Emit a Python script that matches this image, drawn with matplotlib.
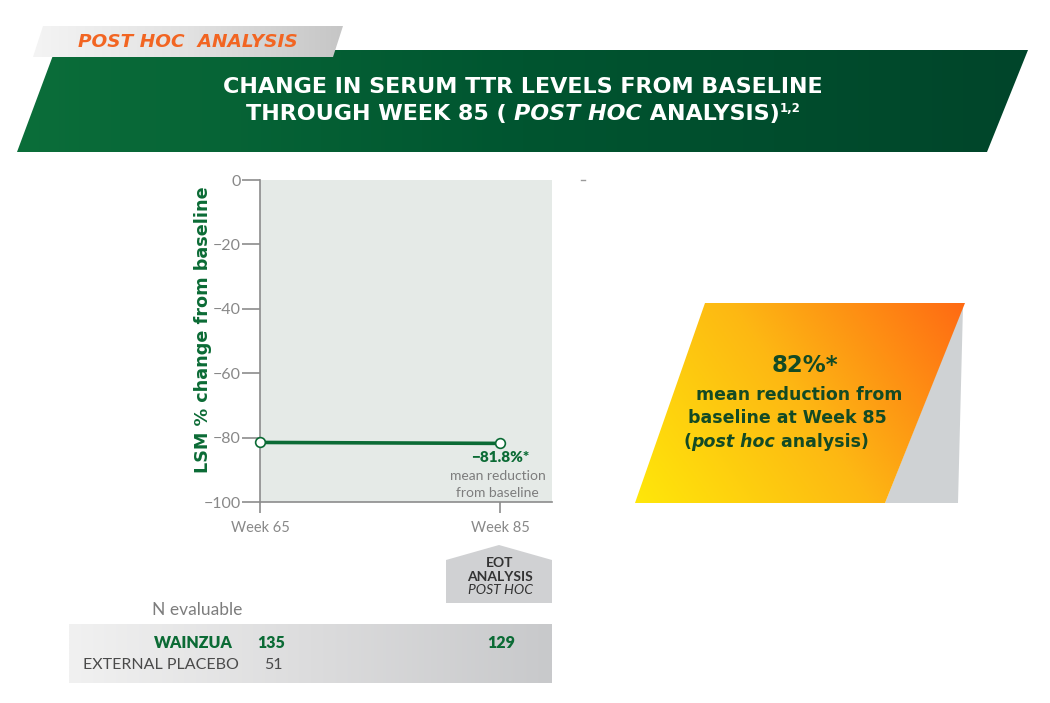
import numpy as np
import matplotlib
matplotlib.use("Agg")
import matplotlib.pyplot as plt
from matplotlib.patches import Polygon
from matplotlib.colors import LinearSegmentedColormap
import matplotlib.transforms as mtransforms

# data
weeks = ['Week 65', 'Week 85']
lsm_change = [-81.5, -81.8]
yticks = [0, -20, -40, -60, -80, -100]
n_wainzua = [135, 129]
n_placebo = [51]
rows = ['WAINZUA', 'EXTERNAL PLACEBO']

GREEN = '#0b6b35'
DKGREEN = '#134a24'
GREY = '#7d7d7d'
BOLD = 'DejaVu Sans'

plt.rcParams['font.family'] = ['Lato', 'DejaVu Sans']

fig = plt.figure(figsize=(10.5, 7.03), dpi=100)
ov = fig.add_axes([0, 0, 1, 1], zorder=0)
ov.set_xlim(0, 1050)
ov.set_ylim(703, 0)
ov.axis('off')
renderer = fig.canvas.get_renderer()


def grad_poly(verts, colors, mix=0.0, zorder=1):
    poly = Polygon(verts, closed=True, facecolor='none', edgecolor='none')
    ov.add_patch(poly)
    xs = [v[0] for v in verts]
    ys = [v[1] for v in verts]
    gx, gy = np.meshgrid(np.linspace(0, 1, 256), np.linspace(0, 1, 256))
    g = (1 - mix) * gx + mix * (1 - gy)
    cmap = LinearSegmentedColormap.from_list('g', colors)
    im = ov.imshow(g, cmap=cmap, extent=(min(xs), max(xs), max(ys), min(ys)),
                   aspect='auto', zorder=zorder, interpolation='bilinear')
    im.set_clip_path(poly)


def text_runs(xc, y, pieces, **kw):
    # pieces: (text, extra props, y shift)
    objs = []
    for s, props, dy in pieces:
        p = dict(kw)
        p.update(props)
        objs.append((ov.text(0, y + dy, s, ha='left', va='center', zorder=3, **p)))
    widths = [t.get_window_extent(renderer).width for t in objs]
    x = xc - sum(widths) / 2
    for t, w in zip(objs, widths):
        t.set_x(x)
        x += w


# banner
grad_poly([(55, 50), (1028, 50), (987, 152), (17, 152)], ['#0b6e3a', '#005530', '#00452a'])
grad_poly([(43, 26), (343, 26), (333, 57), (33, 57)], ['#f4f4f4', '#e2e2e2', '#c6c6c6'], zorder=2)
ov.text(188, 42, 'POST HOC  ANALYSIS', color='#f26522', fontsize=13.3, fontweight='bold',
        fontstyle='italic', family=BOLD, ha='center', va='center', zorder=3)
ov.text(523, 87, 'CHANGE IN SERUM TTR LEVELS FROM BASELINE', color='white', fontsize=16,
        fontweight='bold', family=BOLD, ha='center', va='center', zorder=3)
text_runs(523, 114, [('THROUGH WEEK 85 ( ', {}, 0),
                     ('POST HOC', {'fontstyle': 'italic'}, 0),
                     (' ANALYSIS)', {}, 0),
                     ('1,2', {'fontsize': 8.5}, -6)],
          color='white', fontsize=16, fontweight='bold', family=BOLD)

# callout
ov.add_patch(Polygon([(963, 306), (958, 503), (885, 503)], closed=True,
                     facecolor='#cfd2d4', edgecolor='none', zorder=1))
grad_poly([(705, 303), (965, 303), (885, 503), (635, 503)],
          ['#ffe70a', '#fdb813', '#ff6a13'], mix=0.3, zorder=2)
ov.text(805, 366, '82%*', color=DKGREEN, fontsize=16.5, fontweight='bold', family=BOLD,
        ha='center', va='center', zorder=3)
ov.text(799, 395, 'mean reduction from', color=DKGREEN, fontsize=12.5, fontweight='bold',
        family=BOLD, ha='center', va='center', zorder=3)
ov.text(787, 418, 'baseline at Week 85', color=DKGREEN, fontsize=12.5, fontweight='bold',
        family=BOLD, ha='center', va='center', zorder=3)
text_runs(776, 442, [('(', {}, 0), ('post hoc', {'fontstyle': 'italic'}, 0),
                     (' analysis)', {}, 0)],
          color=DKGREEN, fontsize=12.5, fontweight='bold', family=BOLD)
ov.plot([581, 585], [180, 180], color='#9a9a9a', lw=1)

# chart
ax = fig.add_axes([260 / 1050, 201 / 703, 292 / 1050, 322 / 703], zorder=1)
ax.set_facecolor('#e5eae7')
xpos = np.arange(len(weeks))
ax.plot(xpos, lsm_change, color=GREEN, lw=2.6, marker='o', ms=7,
        markerfacecolor='white', markeredgecolor=GREEN, markeredgewidth=1.2, clip_on=False, zorder=3)
ax.set_xlim(0, 292 / 240)
ax.set_ylim(-100, 0)
ax.set_xticks(xpos)
ax.set_xticklabels(weeks)
ax.set_yticks(yticks)
ax.set_yticklabels(['0' if v == 0 else '\u2212%d' % abs(v) for v in yticks])
for s in ['top', 'right']:
    ax.spines[s].set_visible(False)
for s in ['left', 'bottom']:
    ax.spines[s].set_color('#8c8c8c')
    ax.spines[s].set_linewidth(1.2)
ax.tick_params(axis='both', colors='#8c8c8c', labelcolor='#888888', labelsize=10.5, width=1.2)
ax.tick_params(axis='y', length=13, pad=1, labelsize=11.5)
ax.tick_params(axis='x', length=8, pad=6)
ax.set_ylabel('LSM % change from baseline', color=GREEN, fontsize=12.7, fontweight='bold',
              family=BOLD)
ax.yaxis.set_label_coords(-0.165, 0.534)
ax.text(xpos[-1], -86.3, '\u2212%.1f%%*' % abs(lsm_change[-1]), color=GREEN, fontsize=11,
        fontweight='heavy', ha='center', va='center')
ax.text(xpos[-1] - 0.01, -91.9, 'mean reduction', color=GREY, fontsize=10, ha='center', va='center')
ax.text(xpos[-1] - 0.01, -97.2, 'from baseline', color=GREY, fontsize=10, ha='center', va='center')

# EOT marker
bt = mtransforms.blended_transform_factory(ax.transData, ov.transData)
ov.add_patch(Polygon([(446, 560), (499, 545), (552, 560), (552, 603), (446, 603)], closed=True,
                     facecolor='#d0d1d3', edgecolor='none', zorder=1))
ov.text(xpos[-1], 563, 'EOT', transform=bt, color='#333333', fontsize=10, fontweight='bold',
        ha='center', va='center', zorder=3)
ov.text(xpos[-1], 577, 'ANALYSIS', transform=bt, color='#333333', fontsize=10, fontweight='bold',
        ha='center', va='center', zorder=3)
ov.text(xpos[-1], 590, 'POST HOC', transform=bt, color='#333333', fontsize=10, fontstyle='italic',
        ha='center', va='center', zorder=3)

# N table
ov.text(242, 610, 'N evaluable', color=GREY, fontsize=12.5, ha='right', va='center', zorder=3)
grad_poly([(69, 624), (552, 624), (552, 683), (69, 683)], ['#f1f1f1', '#dcdcdd', '#c8c9cb'])
ov.text(233, 643, rows[0], color=GREEN, fontsize=11.5, fontweight='heavy', ha='right',
        va='center', zorder=3)
ov.text(239, 665, rows[1], color='#4a4a4a', fontsize=11.5, ha='right', va='center', zorder=3)
n_offsets = [0.046, 0.004]
for i, n in enumerate(n_wainzua):
    ov.text(xpos[i] + n_offsets[i], 643, str(n), transform=bt, color=GREEN, fontsize=11.5,
            fontweight='heavy', ha='center', va='center', zorder=3)
for i, n in enumerate(n_placebo):
    ov.text(xpos[i] + 0.055, 665, str(n), transform=bt, color='#4a4a4a', fontsize=11.5,
            ha='center', va='center', zorder=3)

ov.set_xlim(0, 1050)
ov.set_ylim(703, 0)
fig.savefig('out.png', dpi=100)
